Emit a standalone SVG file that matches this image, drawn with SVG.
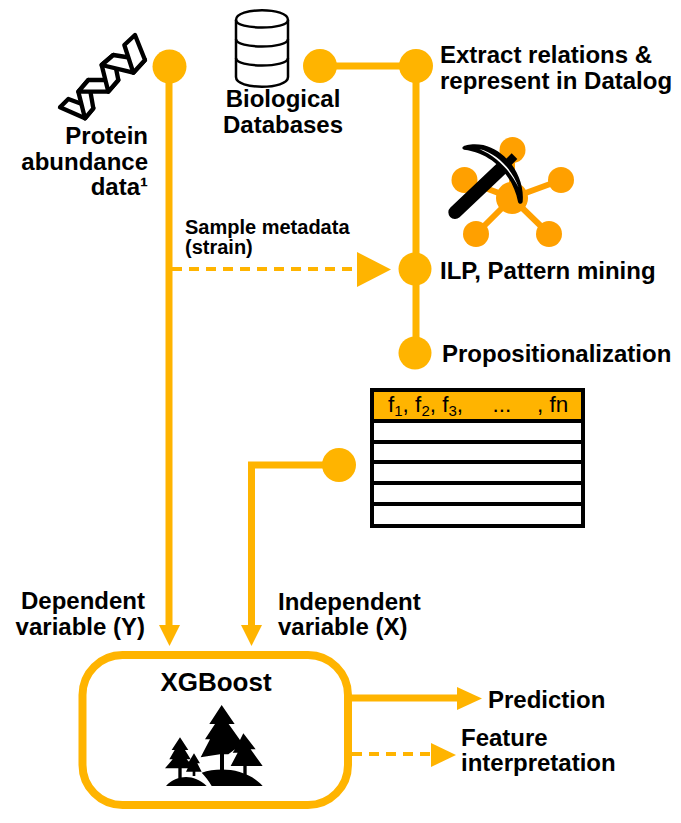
<svg xmlns="http://www.w3.org/2000/svg" width="681" height="823" viewBox="0 0 681 823">
<style>
text{font-family:"Liberation Sans",Arial,sans-serif;font-weight:700;font-size:24px;fill:#000}
.e{text-anchor:end}.m{text-anchor:middle}
.y{fill:#FFB400}.o{fill:#FFA000}
.l{fill:none;stroke:#FFB400;stroke-width:7}
.d{fill:none;stroke:#FFB400;stroke-width:4;stroke-dasharray:10 7}
.k{fill:none;stroke:#000;stroke-width:4}
.s{font-size:20px}
.h{font-weight:400;font-size:22.500px}
</style>
<rect width="681" height="823" fill="#fff"/>
<g id="connectors">
<path class="l" d="M169 67V628"/><polygon class="y" points="159,625 180,625 169.500,646"/>
<path class="l" d="M320 66H416M416 66V353"/>
<path class="d" d="M172 269H360"/><polygon class="y" points="357,252 391,269.500 357,287"/>
<path class="l" d="M339 465H251.500V628"/><polygon class="y" points="241,625 262,625 251.500,646"/>
<path class="l" d="M350 698H460"/><polygon class="y" points="457,687 482,698.500 457,710"/>
<path class="d" d="M352 754H434"/><polygon class="y" points="431,743 456,755 431,767"/>
</g>
<g id="protein">
<g transform="translate(55,30) scale(.3333)" fill="#fff" stroke="#000" stroke-width="13" stroke-linejoin="round">
<polygon points="15,232 40,207 115,235 90,265"/>
<polygon points="70,185 100,150 115,235 90,265"/>
<polygon points="70,185 100,150 190,150 160,185"/>
<polygon points="140,105 175,75 190,150 160,185"/>
<polygon points="140,105 175,75 270,90 235,128"/>
<polygon points="208,45 240,15 270,90 235,128"/>
</g>
<circle class="y" cx="169.500" cy="66.500" r="17"/>
<text class="e" x="148" y="144">Protein</text><text class="e" x="148" y="169.500">abundance</text><text class="e" x="148" y="195">data¹</text>
</g>
<g id="databases">
<path d="M236 20C236 7 288 7 288 20V77C288 90 236 90 236 77Z" fill="#fff" stroke="#000" stroke-width="2.500"/>
<path d="M236 20C236 30 288 30 288 20M236 39C236 49 288 49 288 39M236 58C236 68 288 68 288 58" fill="none" stroke="#000" stroke-width="2.500"/>
<circle class="y" cx="320" cy="66" r="17"/>
<text class="m" x="283" y="107">Biological</text><text class="m" x="283" y="132.500">Databases</text>
</g>
<g id="extract"><circle class="y" cx="416" cy="66" r="17"/><text x="440" y="63">Extract relations &amp;</text><text x="440" y="89">represent in Datalog</text></g>
<g id="mining-icon">
<path d="M512 198L512 150M512 198L464 180M512 198L561 180M512 198L476 234M512 198L549 234" stroke="#FFA000" stroke-width="6" fill="none"/>
<circle class="o" cx="512" cy="198" r="16"/><circle class="o" cx="512.500" cy="150" r="13"/><circle class="o" cx="464.500" cy="180" r="13"/><circle class="o" cx="561" cy="180" r="13"/><circle class="o" cx="476" cy="234" r="13"/><circle class="o" cx="549" cy="234" r="13"/>
<g transform="translate(440,135) scale(.3333)">
<path d="M45 232L190 95" stroke="#000" stroke-width="40" stroke-linecap="round"/>
<path d="M185 85L215 55L232 72L200 105Z" fill="#000"/>
<path d="M68 36C75 28 105 25 130 30C205 48 255 130 248 200C246 208 236 208 234 200C220 130 165 55 72 44C68 42 66 40 68 36Z" fill="#000"/>
<path d="M118 42C170 55 215 100 236 158C210 105 170 65 118 42Z" fill="#fff"/>
</g>
</g>
<g id="ilp"><circle class="y" cx="415" cy="269" r="16.500"/><text x="440" y="278.500">ILP, Pattern mining</text></g>
<g id="metadata"><text class="s" x="185" y="234">Sample metadata</text><text class="s" x="185" y="254">(strain)</text></g>
<g id="propositionalization"><circle class="y" cx="415" cy="353" r="16.500"/><text x="442" y="362">Propositionalization</text></g>
<g id="table">
<rect x="372" y="390" width="211" height="136" fill="#fff"/>
<rect x="372" y="390" width="211" height="30" class="y"/>
<path class="k" d="M372 421H583M372 442H583M372 462H583M372 483H583M372 504H583"/>
<rect x="372" y="390" width="211" height="136" class="k"/>
<text x="388" y="412" class="h">f<tspan dy="4" font-size="15">1</tspan><tspan dy="-4">, f</tspan><tspan dy="4" font-size="15">2</tspan><tspan dy="-4">, f</tspan><tspan dy="4" font-size="15">3</tspan><tspan dy="-4">,</tspan></text>
<text x="502" y="412" class="h m">...</text>
<text x="537" y="412" class="h">, fn</text>
<circle class="y" cx="339" cy="465" r="17"/>
</g>
<g id="labels"><text class="e" x="145" y="609">Dependent</text><text class="e" x="145" y="635">variable (Y)</text><text x="278" y="610">Independent</text><text x="278" y="635">variable (X)</text></g>
<g id="xgboost">
<rect x="82.500" y="655" width="265.500" height="150" rx="40" fill="#fff" stroke="#FFB400" stroke-width="8"/>
<text class="m" x="216" y="691" style="font-size:26px">XGBoost</text>
<g transform="translate(160,700) scale(.3333)" fill="#000">
<polygon points="185,15 224,72 206,72 240,120 250,100 287,148 272,148 308,198 260,198 260,225 250,225 250,198 212,198 233,158 218,158 225,148 205,163 192,163 192,210 180,210 180,163 122,172 150,118 135,118 165,72 148,72"/>
<polygon points="60,112 85,150 75,150 92,178 80,178 105,205 65,205 65,235 55,235 55,205 15,205 38,178 28,178 44,150 35,150"/>
<polygon points="102,160 120,190 112,190 125,215 106,215 106,228 98,228 98,215 78,215 90,190 84,190"/>
<path d="M18 258C50 225 100 220 140 258Z"/>
<path d="M155 258C145 240 135 228 125 218C180 200 260 205 308 258Z"/>
</g>
</g>
<g id="prediction"><text x="488" y="708">Prediction</text></g>
<g id="interpretation"><text x="461" y="745.500">Feature</text><text x="461" y="771">interpretation</text></g>
</svg>
